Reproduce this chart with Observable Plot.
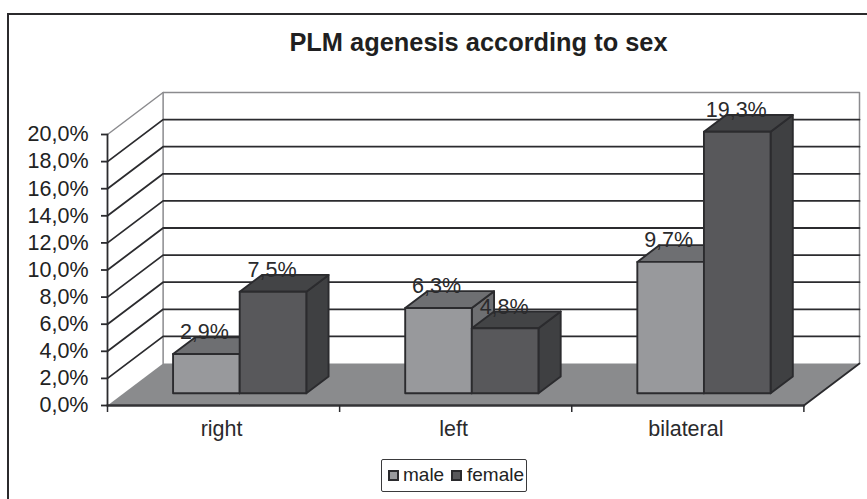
<!DOCTYPE html>
<html><head><meta charset="utf-8">
<script src="https://cdn.jsdelivr.net/npm/d3@7"></script>
<script src="https://cdn.jsdelivr.net/npm/@observablehq/plot@0.6"></script>
<style>
html,body{margin:0;padding:0;background:#fff}
#wrap{position:relative;width:867px;height:499px;overflow:hidden;font-family:"Liberation Sans",Arial,sans-serif;color:#222}
#wrap svg{position:absolute;left:0;top:0}
#frame{position:absolute;left:7px;top:13px;width:870px;height:500px;border:2px solid #2b2a2c;box-sizing:border-box}
#title{position:absolute;left:0;width:957px;top:27px;text-align:center;font-weight:bold;font-size:25.4px;line-height:30px;color:#1f1f21}
#legend{position:absolute;left:381px;top:459px;width:146px;height:33px;box-sizing:border-box;border:1.5px solid #3a3a3c;border-radius:2px;font-size:19px;line-height:30px;white-space:nowrap;background:#fff}
#legend i{position:absolute;top:10px;width:11px;height:11px;box-sizing:border-box;border:2px solid #2a2a2d}
#legend span{position:absolute;top:0}
</style></head><body>
<div id="wrap"><div id="frame"></div><div id="title">PLM agenesis according to sex</div></div>
<script>
const categories = ["right", "left", "bilateral"];
const male = [2.9, 6.3, 9.7];
const female = [7.5, 4.8, 19.3];
const labelsMale = ["2,9%", "6,3%", "9,7%"];
const labelsFemale = ["7,5%", "4,8%", "19,3%"];
const yTicks = [0, 2, 4, 6, 8, 10, 12, 14, 16, 18, 20];

// Oblique projection, in data units of the two scales
const DX = 0.2396, DY = 3.1, BAR = 0.287, PAD = 0.213, D0 = 0.29, D1 = 0.69;
const P = (c, v, d) => ({x: c + d * DX, y: v + d * DY});
const dark = "#2b2b2e";
const FS = 21.5;
const path = (pts, o) => Plot.line(pts, {x: "x", y: "y", strokeLinejoin: "round", ...o});
const face = (pts, fill, stroke = dark) => path([...pts, pts[0]], {fill, stroke, strokeWidth: 1.9});

function bar(c0, v, front, top, side) {
  const c1 = c0 + BAR;
  return [
    face([P(c1,0,D0), P(c1,0,D1), P(c1,v,D1), P(c1,v,D0)], side),
    face([P(c0,v,D0), P(c1,v,D0), P(c1,v,D1), P(c0,v,D1)], top),
    face([P(c0,0,D0), P(c1,0,D0), P(c1,v,D0), P(c0,v,D0)], front)
  ];
}

const gridValues = yTicks.filter(v => v > 0 && v < 20);
const marks = [
  // walls
  path([P(0,20,0), P(0,20,1), P(3,20,1), P(3,0,1)], {stroke: "#8b8b8e", strokeWidth: 1.5}),
  path([P(0,0,1), P(0,20,1)], {stroke: "#8b8b8e", strokeWidth: 1.5}),
  ...gridValues.map(v => path([P(0,v,0), P(0,v,1), P(3,v,1)], {stroke: dark, strokeWidth: 1.8})),
  // floor
  face([P(0,0,0), P(3,0,0), P(3,0,1), P(0,0,1)], "#8a8b8d", "none"),
  path([P(3,0,0), P(3,0,1)], {stroke: dark, strokeWidth: 1.8}),
  path([P(0,0,0), P(3,0,0)], {stroke: "#333336", strokeWidth: 2.4}),
  path([P(0,0,0), P(0,20,0)], {stroke: dark, strokeWidth: 1.8}),
  // bars
  ...categories.flatMap((_, i) => [
    ...bar(i + PAD, male[i], "#98999c", "#6e6f72", "#6e6f72"),
    ...bar(i + PAD + BAR, female[i], "#58585b", "#434446", "#3f4042")
  ]),
  // value labels
  Plot.text(categories.map((_, i) => i), {
    x: i => i + PAD + BAR / 2 + D0 * DX, y: i => male[i] + D0 * DY, text: i => labelsMale[i],
    dx: -2, dy: -21.5, fontSize: FS, fill: "#2a2a2c"
  }),
  Plot.text(categories.map((_, i) => i), {
    x: i => i + PAD + 1.5 * BAR + D0 * DX, y: i => female[i] + D0 * DY, text: i => labelsFemale[i],
    dx: -1, dy: -21.5, fontSize: FS, fill: "#2a2a2c"
  }),
  // axes
  Plot.axisY({ticks: yTicks, tickSize: 6, tickPadding: 13, fontSize: FS, stroke: dark, strokeWidth: 1.8,
    tickFormat: v => v.toFixed(1).replace(".", ",") + "%", label: null}),
  Plot.axisX({ticks: [0, 1, 2, 3], tickSize: 7, tickFormat: () => "", label: null, stroke: dark, strokeWidth: 1.5}),
  Plot.axisX({ticks: [0.5, 1.5, 2.5], tickSize: 0, tickPadding: 15, fontSize: FS, fill: "#2a2a2c", label: null,
    dx: -2, tickFormat: v => categories[Math.floor(v)]})
];

const chart = Plot.plot({
  width: 867, height: 499,
  marginLeft: 107, marginRight: 8, marginTop: 92, marginBottom: 94,
  x: {domain: [0, 3 + DX]},
  y: {domain: [0, 20 + DY]},
  style: {background: "transparent", fontFamily: '"Liberation Sans",Arial,sans-serif', overflow: "visible"},
  marks
});
const wrap = document.getElementById("wrap");
wrap.insertBefore(chart, wrap.firstChild);

const legend = document.createElement("div");
legend.id = "legend";
const entries = [["male", "#98999c", 6, 21], ["female", "#58585b", 69, 85]];
for (const [name, col, sx, tx] of entries) {
  const sw = document.createElement("i");
  sw.style.left = sx + "px"; sw.style.background = col;
  const t = document.createElement("span");
  t.style.left = tx + "px"; t.textContent = name;
  legend.append(sw, t);
}
wrap.appendChild(legend);
</script>
</body></html>
